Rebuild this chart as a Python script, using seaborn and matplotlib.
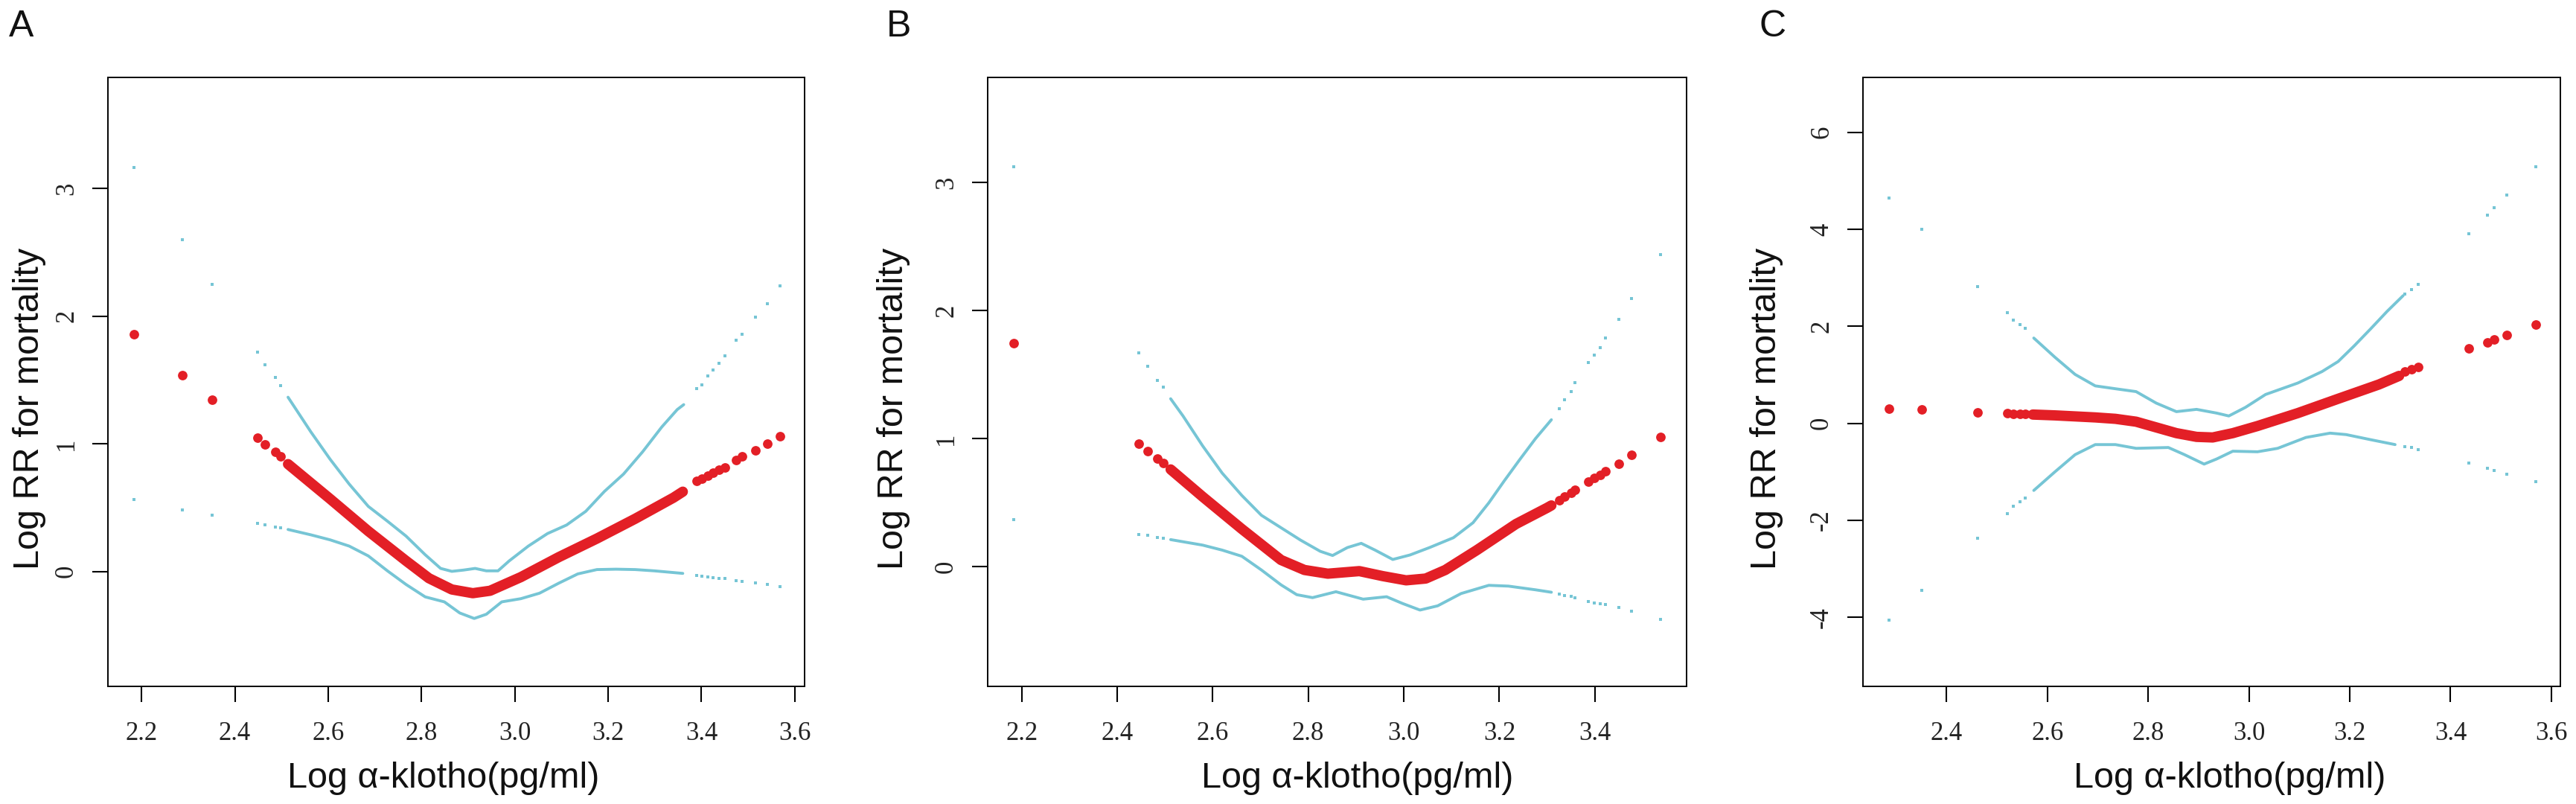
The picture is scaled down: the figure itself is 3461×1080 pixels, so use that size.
import numpy as np
import pandas as pd
import matplotlib
matplotlib.use("Agg")
import matplotlib.pyplot as plt
import seaborn as sns

sns.set_theme(style="ticks", rc={
    "axes.edgecolor": "black", "axes.linewidth": 1.4,
    "xtick.major.size": 15, "ytick.major.size": 15,
    "xtick.major.width": 1.5, "ytick.major.width": 1.5,
    "xtick.color": "black", "ytick.color": "black",
    "axes.facecolor": "white", "figure.facecolor": "white",
})
plt.rcParams["font.family"] = ["Liberation Sans", "DejaVu Sans"]

RED = "#E31F26"
BLUE = "#76C5D5"

# ---- panel A ----
A_pts_x = [2.184, 2.287, 2.351, 2.449, 2.465, 2.487, 2.498,
           3.390, 3.401, 3.413, 3.425, 3.437, 3.450, 3.474, 3.487, 3.515, 3.542, 3.569]
A_pts_fit = [1.86, 1.54, 1.345, 1.05, 0.996, 0.938, 0.899,
             0.708, 0.728, 0.750, 0.773, 0.795, 0.817, 0.870, 0.899, 0.948, 1.002, 1.058]
A_pts_up = [3.165, 2.597, 2.251, 1.721, 1.622, 1.521, 1.453,
            1.43, 1.46, 1.53, 1.58, 1.63, 1.69, 1.81, 1.86, 1.99, 2.10, 2.236]
A_pts_lo = [0.565, 0.483, 0.443, 0.378, 0.364, 0.345, 0.34,
            -0.03, -0.035, -0.04, -0.046, -0.052, -0.057, -0.073, -0.08, -0.092, -0.100, -0.116]
A_fit_x = [2.514, 2.604, 2.686, 2.767, 2.816, 2.865, 2.910, 2.947, 3.013, 3.094, 3.176, 3.258, 3.340, 3.360]
A_fit_y = [0.841, 0.569, 0.316, 0.083, -0.053, -0.141, -0.170, -0.151, -0.044, 0.112, 0.258, 0.413, 0.578, 0.625]
A_up_x = [2.514, 2.563, 2.604, 2.645, 2.686, 2.727, 2.767, 2.808, 2.841, 2.865, 2.890, 2.915, 2.939,
          2.964, 2.988, 3.029, 3.070, 3.111, 3.152, 3.192, 3.233, 3.274, 3.315, 3.348, 3.362]
A_up_y = [1.365, 1.093, 0.880, 0.685, 0.510, 0.394, 0.277, 0.131, 0.024, 0.001, 0.011, 0.024, 0.005,
          0.005, 0.083, 0.199, 0.297, 0.364, 0.471, 0.627, 0.763, 0.938, 1.132, 1.268, 1.307]
A_lo_x = [2.514, 2.563, 2.604, 2.645, 2.686, 2.727, 2.767, 2.808, 2.849, 2.882, 2.913, 2.939, 2.972,
          3.013, 3.053, 3.094, 3.135, 3.176, 3.217, 3.258, 3.299, 3.360]
A_lo_y = [0.329, 0.287, 0.248, 0.199, 0.122, 0.005, -0.102, -0.199, -0.238, -0.325, -0.368, -0.335, -0.238,
          -0.213, -0.170, -0.092, -0.019, 0.015, 0.018, 0.015, 0.005, -0.015]

# ---- panel B ----
B_pts_x = [2.184, 2.446, 2.464, 2.485, 2.496,
           3.325, 3.337, 3.350, 3.359, 3.387, 3.399, 3.411, 3.422, 3.450, 3.477, 3.538]
B_pts_fit = [1.745, 0.961, 0.903, 0.848, 0.813,
             0.519, 0.548, 0.577, 0.600, 0.664, 0.693, 0.717, 0.746, 0.806, 0.872, 1.015]
B_pts_up = [3.126, 1.672, 1.565, 1.459, 1.401,
            1.236, 1.304, 1.368, 1.436, 1.595, 1.653, 1.711, 1.788, 1.934, 2.093, 2.44]
B_pts_lo = [0.37, 0.252, 0.245, 0.232, 0.225,
            -0.212, -0.222, -0.232, -0.241, -0.272, -0.28, -0.287, -0.295, -0.318, -0.344, -0.408]
B_fit_x = [2.512, 2.579, 2.661, 2.743, 2.792, 2.841, 2.907, 2.956, 3.005, 3.046, 3.087, 3.153, 3.235, 3.300, 3.309]
B_fit_y = [0.761, 0.548, 0.296, 0.054, -0.024, -0.053, -0.033, -0.072, -0.105, -0.091, -0.024, 0.131, 0.335, 0.461, 0.480]
B_up_x = [2.512, 2.538, 2.579, 2.620, 2.661, 2.702, 2.743, 2.784, 2.825, 2.851, 2.882, 2.911, 2.940,
          2.977, 3.013, 3.054, 3.104, 3.145, 3.178, 3.210, 3.243, 3.276, 3.309]
B_up_y = [1.313, 1.178, 0.945, 0.732, 0.558, 0.403, 0.306, 0.209, 0.122, 0.089, 0.151, 0.184, 0.131,
          0.058, 0.093, 0.151, 0.228, 0.345, 0.500, 0.670, 0.839, 1.003, 1.149]
B_lo_x = [2.512, 2.579, 2.620, 2.661, 2.702, 2.743, 2.776, 2.809, 2.858, 2.915, 2.964, 2.997, 3.034,
          3.071, 3.120, 3.178, 3.219, 3.276, 3.309]
B_lo_y = [0.213, 0.170, 0.131, 0.083, -0.024, -0.140, -0.217, -0.240, -0.194, -0.252, -0.233, -0.285, -0.337,
          -0.304, -0.208, -0.144, -0.150, -0.179, -0.198]

# ---- panel C ----
C_pts_x = [2.285, 2.350, 2.462, 2.520, 2.533, 2.545, 2.556,
           3.310, 3.322, 3.336, 3.436, 3.473, 3.487, 3.512, 3.569]
C_pts_fit = [0.30, 0.28, 0.23, 0.205, 0.20, 0.197, 0.195,
             1.068, 1.115, 1.157, 1.540, 1.670, 1.729, 1.824, 2.036]
C_pts_up = [4.643, 4.0, 2.826, 2.278, 2.131, 2.03, 1.954,
            2.66, 2.76, 2.869, 3.914, 4.286, 4.445, 4.711, 5.289]
C_pts_lo = [-4.05, -3.44, -2.374, -1.855, -1.707, -1.62, -1.542,
            -0.48, -0.50, -0.538, -0.821, -0.928, -0.969, -1.046, -1.205]
C_fit_x = [2.571, 2.615, 2.695, 2.735, 2.776, 2.816, 2.856, 2.896, 2.928, 2.968, 3.017, 3.097, 3.177, 3.258, 3.298]
C_fit_y = [0.182, 0.165, 0.123, 0.094, 0.035, -0.083, -0.201, -0.278, -0.290, -0.201, -0.054, 0.212, 0.507, 0.802, 0.979]
C_up_x = [2.573, 2.615, 2.655, 2.695, 2.735, 2.776, 2.816, 2.856, 2.896, 2.936, 2.960, 2.993, 3.033,
          3.097, 3.145, 3.177, 3.209, 3.242, 3.274, 3.306]
C_up_y = [1.759, 1.363, 1.009, 0.773, 0.714, 0.655, 0.418, 0.242, 0.289, 0.212, 0.153, 0.330, 0.596,
          0.832, 1.068, 1.275, 1.599, 1.954, 2.307, 2.633]
C_lo_x = [2.573, 2.615, 2.655, 2.695, 2.735, 2.776, 2.840, 2.872, 2.911, 2.936, 2.968, 3.017, 3.057,
          3.113, 3.161, 3.193, 3.242, 3.290]
C_lo_y = [-1.382, -0.998, -0.644, -0.437, -0.437, -0.514, -0.497, -0.644, -0.839, -0.733, -0.573, -0.585, -0.514,
          -0.290, -0.201, -0.231, -0.337, -0.437]

A_xticks = [2.2, 2.4, 2.6, 2.8, 3.0, 3.2, 3.4, 3.6]
B_xticks = [2.2, 2.4, 2.6, 2.8, 3.0, 3.2, 3.4]
C_xticks = [2.4, 2.6, 2.8, 3.0, 3.2, 3.4, 3.6]
A_yticks = [0, 1, 2, 3]
B_yticks = [0, 1, 2, 3]
C_yticks = [-4, -2, 0, 2, 4, 6]

xlab = "Log α-klotho(pg/ml)"
ylab = "Log RR for mortality"

W, H = 3461, 1080
fig = plt.figure(figsize=(W / 100, H / 100), dpi=100)

panels = [
    dict(tag="A", left=145, width=936, tag_x=12, xlim=(2.128, 3.621), ylim=(-0.90, 3.87),
         xticks=A_xticks, yticks=A_yticks, xlab_x=0.482, ylab_x=-0.0887,
         pts=(A_pts_x, A_pts_fit, A_pts_up, A_pts_lo),
         fit=(A_fit_x, A_fit_y), up=(A_up_x, A_up_y), lo=(A_lo_x, A_lo_y)),
    dict(tag="B", left=1327, width=939, tag_x=1191, xlim=(2.129, 3.592), ylim=(-0.933, 3.822),
         xticks=B_xticks, yticks=B_yticks, xlab_x=0.529, ylab_x=-0.111,
         pts=(B_pts_x, B_pts_fit, B_pts_up, B_pts_lo),
         fit=(B_fit_x, B_fit_y), up=(B_up_x, B_up_y), lo=(B_lo_x, B_lo_y)),
    dict(tag="C", left=2503, width=937, tag_x=2364, xlim=(2.234, 3.618), ylim=(-5.42, 7.13),
         xticks=C_xticks, yticks=C_yticks, xlab_x=0.526, ylab_x=-0.114,
         pts=(C_pts_x, C_pts_fit, C_pts_up, C_pts_lo),
         fit=(C_fit_x, C_fit_y), up=(C_up_x, C_up_y), lo=(C_lo_x, C_lo_y)),
]

top_px, bot_px = 104, 922
for p in panels:
    ax = fig.add_axes([p["left"] / W, 1 - bot_px / H, p["width"] / W, (bot_px - top_px) / H])
    px, pfit, pup, plo = p["pts"]

    # confidence band: dense part as line, sparse ends as small dots
    for cx, cy in (p["up"], p["lo"]):
        sns.lineplot(x=cx, y=cy, ax=ax, color=BLUE, lw=2.8, sort=False, estimator=None,
                     solid_capstyle="round", solid_joinstyle="round")
    sns.scatterplot(x=px, y=pup, ax=ax, color=BLUE, marker="s", s=8, linewidth=0)
    sns.scatterplot(x=px, y=plo, ax=ax, color=BLUE, marker="s", s=8, linewidth=0)

    # fitted curve
    sns.lineplot(x=p["fit"][0], y=p["fit"][1], ax=ax, color=RED, lw=10, sort=False,
                 estimator=None, solid_capstyle="round", solid_joinstyle="round")
    sns.scatterplot(x=px, y=pfit, ax=ax, color=RED, s=85, linewidth=0)

    ax.set_xlim(*p["xlim"])
    ax.set_ylim(*p["ylim"])
    ax.set_xticks(p["xticks"])
    ax.set_yticks(p["yticks"])
    ax.set_xticklabels([f"{t:.1f}" for t in p["xticks"]], fontfamily="Liberation Serif",
                       fontsize=25, color="#222222")
    ax.set_yticklabels([str(t) for t in p["yticks"]], fontfamily="Liberation Serif",
                       fontsize=25, color="#222222", rotation=90, va="center", ha="right")
    ax.tick_params(axis="x", pad=18.5)
    ax.tick_params(axis="y", pad=13)
    for s in ax.spines.values():
        s.set_visible(True)
        s.set_linewidth(1.4)
        s.set_color("black")

    ax.set_xlabel(xlab, fontsize=35, color="#111111")
    ax.xaxis.label.set_verticalalignment("baseline")
    ax.xaxis.set_label_coords(p["xlab_x"], -(1058 - bot_px) / (bot_px - top_px))
    ax.set_ylabel(ylab, fontsize=35, color="#111111")
    ax.yaxis.set_label_coords(p["ylab_x"], 0.456)

    fig.text(p["tag_x"] / W, 1 - 49 / H, p["tag"], fontsize=36, color="#111111",
             ha="left", va="baseline")

fig.savefig("out.png", dpi=100)
